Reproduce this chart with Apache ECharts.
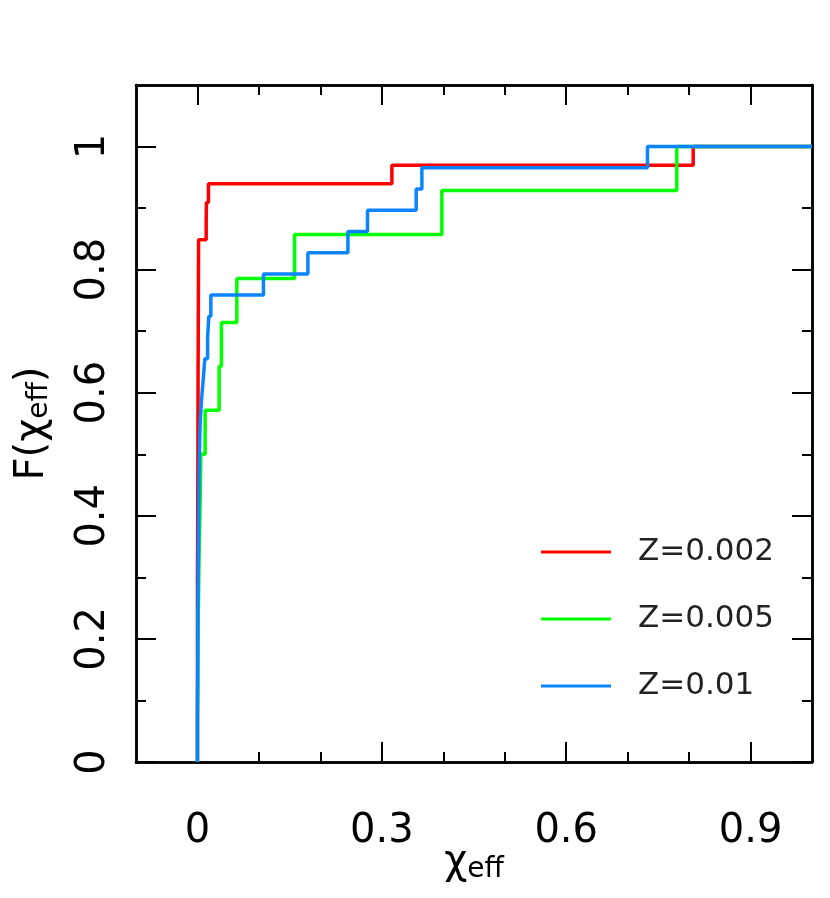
<!DOCTYPE html>
<html>
<head>
<meta charset="utf-8">
<script src="https://cdn.jsdelivr.net/npm/echarts@6/dist/echarts.min.js"></script>
<style>
  html, body { margin: 0; padding: 0; background: #fff; }
  #cdf_chart { width: 830px; height: 898px; }
</style>
</head>
<body>
<div id="cdf_chart"></div>
<script>
// sorted chi_eff samples for each metallicity
var names = ['Z=0.002', 'Z=0.005', 'Z=0.01'];
var colors = ['#ff0000', '#00ff00', '#0a84ff'];

var chi_z002 = [0, 0, 0, 0, 0, 0, 0, 0, 0, 0,
    0.0002, 0.0003, 0.0004, 0.0005, 0.0006, 0.0007, 0.0008, 0.0008, 0.0009, 0.001,
    0.001, 0.0012, 0.0013, 0.0014, 0.0015, 0.0016, 0.0017, 0.0018,
    0.0142, 0.0146, 0.0179, 0.3164, 0.8067];
var chi_z005 = [0, 0.0005, 0.001, 0.002, 0.003, 0.0045, 0.0055,
    0.0125, 0.0353, 0.039, 0.0641, 0.158, 0.3977, 0.780];
var chi_z01 = [0, 0, 0.0002, 0.0004, 0.0005, 0.0006, 0.0008, 0.001, 0.0012, 0.0015,
    0.0018, 0.002, 0.0025, 0.003, 0.0035, 0.0044, 0.0065, 0.0093, 0.012, 0.0165,
    0.0185, 0.0218, 0.1074, 0.1797, 0.2448, 0.2767, 0.3559, 0.3652, 0.7323];

var x_min = -0.1, x_max = 1.0;
var y_min = 0, y_max = 1.1;
var x_major = [0, 0.3, 0.6, 0.9];
var x_minor = [0.1, 0.2, 0.4, 0.5, 0.7, 0.8];
var y_major = [0, 0.2, 0.4, 0.6, 0.8, 1.0];
var y_minor = [0.1, 0.3, 0.5, 0.7, 0.9];

var font = 'DejaVu Sans';

// empirical cdf as step points, run out flat to the right edge
function ecdf(xs) {
    var n = xs.length;
    var pts = [[xs[0], 0]];
    xs.forEach(function (x, i) { pts.push([x, (i + 1) / n]); });
    pts.push([x_max, 1]);
    return pts;
}

function fmt(v) {
    return String(Math.round(v * 10) / 10);
}

function xAxis(pos, ticks, len, labels) {
    return {
        type: 'value', position: pos, min: x_min, max: x_max, interval: 0.1,
        axisLine: { show: true, onZero: false, lineStyle: { color: '#000', width: 2.5 } },
        axisTick: { show: true, inside: true, length: len, customValues: ticks,
            lineStyle: { color: '#000', width: 2 } },
        axisLabel: labels ? { show: true, customValues: x_major, formatter: fmt,
            margin: 50, color: '#000', fontSize: 40, fontFamily: font } : { show: false },
        splitLine: { show: false }
    };
}

function yAxis(pos, ticks, len, labels) {
    return {
        type: 'value', position: pos, min: y_min, max: y_max, interval: 0.1,
        axisLine: { show: true, onZero: false, lineStyle: { color: '#000', width: 2.5 } },
        axisTick: { show: true, inside: true, length: len, customValues: ticks,
            lineStyle: { color: '#000', width: 2 } },
        axisLabel: labels ? { show: true, customValues: y_major, formatter: fmt, rotate: 90,
            margin: 22, color: '#000', fontSize: 40, fontFamily: font } : { show: false },
        splitLine: { show: false }
    };
}

var xs = [
    xAxis('bottom', x_major, 20, true),
    xAxis('bottom', x_minor, 10, false),
    xAxis('top', x_major, 20, false),
    xAxis('top', x_minor, 10, false)
];
xs[0].name = '{a|χ}{b|eff}';
xs[0].nameLocation = 'middle';
xs[0].nameGap = 80;
xs[0].nameMoveOverlap = false;
xs[0].nameTextStyle = {
    color: '#000', fontFamily: font,
    rich: {
        a: { fontSize: 40, fontFamily: font, color: '#000' },
        b: { fontSize: 28, fontFamily: font, color: '#000', padding: [14, 0, 0, 0] }
    }
};

var ys = [
    yAxis('left', y_major, 20, true),
    yAxis('left', y_minor, 10, false),
    yAxis('right', y_major, 20, false),
    yAxis('right', y_minor, 10, false)
];
ys[0].name = '{a|F(χ}{b|eff}{a|)}';
ys[0].nameLocation = 'middle';
ys[0].nameRotate = 90;
ys[0].nameGap = 82;
ys[0].nameMoveOverlap = false;
ys[0].nameTextStyle = xs[0].nameTextStyle;

var samples = [chi_z002, chi_z005, chi_z01];
var series = samples.map(function (s, i) {
    return {
        name: names[i],
        type: 'line',
        step: 'end',
        symbol: 'none',
        xAxisIndex: 0,
        yAxisIndex: 0,
        data: ecdf(s),
        lineStyle: { color: colors[i], width: 3.5 },
        itemStyle: { color: colors[i] },
        animation: false
    };
});

var option = {
    backgroundColor: '#fff',
    animation: false,
    grid: { left: 136, right: 18, top: 85, bottom: 136, containLabel: false },
    xAxis: xs,
    yAxis: ys,
    legend: {
        orient: 'vertical',
        left: 536,
        top: 529,
        icon: 'rect',
        itemWidth: 70,
        itemHeight: 3,
        itemGap: 31,
        data: names,
        textStyle: { color: '#222', fontSize: 31, fontFamily: font, lineHeight: 36,
            padding: [0, 0, 0, 22] }
    },
    series: series
};

var chart = echarts.init(document.getElementById('cdf_chart'), null, { renderer: 'canvas' });
chart.setOption(option);
</script>
</body>
</html>
